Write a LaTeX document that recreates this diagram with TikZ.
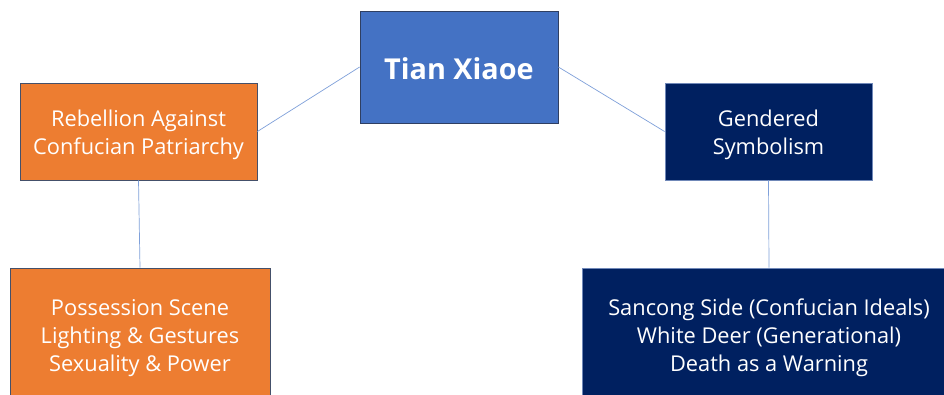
\documentclass[tikz,border=0pt]{standalone}
\usepackage{fontspec}
\setmainfont{Open Sans}
\definecolor{topblue}{HTML}{4472C4}
\definecolor{topedge}{HTML}{2F3F62}
\definecolor{orangefill}{HTML}{ED7D31}
\definecolor{orangeedge}{HTML}{44506A}
\definecolor{navyfill}{HTML}{002060}
\definecolor{navyedge}{HTML}{7088B8}
\definecolor{linkblue}{HTML}{7FA0DA}
\tikzset{
  x=1pt, y=-1pt,
  box/.style={rectangle, inner sep=0pt, line width=0.8pt},
  orangebox/.style={box, fill=orangefill, draw=orangeedge},
  navybox/.style={box, fill=navyfill, draw=navyedge},
  boxtext/.style={inner sep=0pt, align=center, text=white,
    font=\fontsize{21.8}{28}\selectfont},
  link/.style={draw=linkblue, line width=0.7pt}
}
\begin{document}
\begin{tikzpicture}
\fill[white] (0,0) rectangle (944,394);
\useasboundingbox (0,0) rectangle (944,394);
\clip (0,0) rectangle (944,394);

% central topic
\node[box, fill=topblue, draw=topedge, minimum width=198pt, minimum height=112pt] (top) at (459,67) {};
\node[boxtext, font=\fontsize{28.8}{32}\selectfont\bfseries] (toptext)
  at ([yshift=-2pt]top.center) {Tian Xiaoe};

% left branch
\node[orangebox, minimum width=237pt, minimum height=97pt] (rebel) at (138.5,131.5) {};
\node[boxtext] (rebeltext) at ([yshift=-3.5pt]rebel.center)
  {Rebellion Against\\Confucian Patriarchy};
\node[orangebox, minimum width=260pt, minimum height=134pt] (poss) at (140,335) {};
\node[boxtext] (posstext) at ([yshift=-3pt]poss.center)
  {Possession Scene\\Lighting \& Gestures\\Sexuality \& Power};

% right branch
\node[navybox, minimum width=207pt, minimum height=97pt] (gender) at (768.5,131.5) {};
\node[boxtext] (gendertext) at ([yshift=-3.5pt]gender.center)
  {Gendered\\Symbolism};
\node[navybox, minimum width=374pt, minimum height=134pt] (sancong) at (769,335) {};
\node[boxtext] (sancongtext) at ([yshift=-3pt]sancong.center)
  {Sancong Side (Confucian Ideals)\\White Deer (Generational)\\Death as a Warning};

% connectors
\draw[link] (top.west) -- (rebel.east);
\draw[link] (top.east) -- (gender.west);
\draw[link] (rebel.south) -- (poss.north);
\draw[link] (gender.south) -- (sancong.north);
\end{tikzpicture}
\end{document}
